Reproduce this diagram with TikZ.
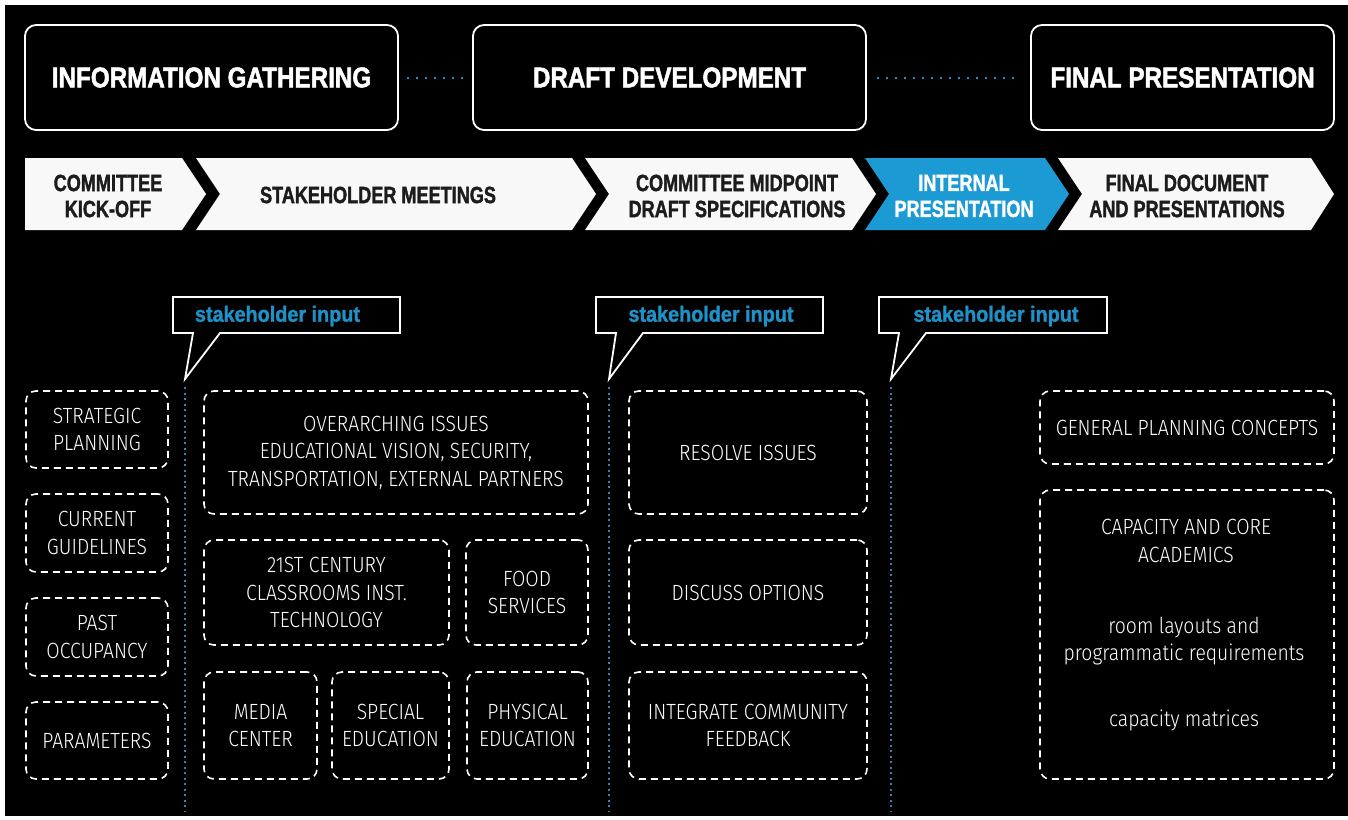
\documentclass[tikz,border=0pt]{standalone}
\usepackage{fontspec}
\newfontfamily\hfam[FakeStretch=0.85,FakeBold=1.8]{Liberation Sans Bold}
\newfontfamily\cfam[FakeStretch=0.77,FakeBold=1.5]{Liberation Sans Bold}
\newfontfamily\sfam[FakeStretch=0.9,FakeBold=1.4]{Liberation Sans Bold}
\IfFontExistsTF{Fira Sans Book}{\newfontfamily\bfam[FakeStretch=0.86]{Fira Sans Book}}{%
\IfFontExistsTF{Fira Sans Light}{\newfontfamily\bfam[FakeStretch=0.88]{Fira Sans Light}}{\newfontfamily\bfam[FakeStretch=0.77]{Liberation Sans}}}
\definecolor{cblue}{RGB}{27,154,212}
\definecolor{sblue}{RGB}{30,145,200}
\definecolor{dblue}{RGB}{50,130,170}
\definecolor{ctext}{RGB}{28,28,28}
\definecolor{cwhite}{RGB}{248,248,248}
\begin{document}
\begin{tikzpicture}[x=1pt,y=-1pt,
  phase/.style={draw=white,line width=1.8pt,rounded corners=11pt,inner sep=0pt,text=white,
    font=\hfam\fontsize{28.5}{30}\selectfont},
  chevw/.style={fill=cwhite},
  chevb/.style={fill=cblue},
  ctxt/.style={text=ctext,align=center,inner sep=0pt,font=\cfam\fontsize{23.5}{26}\selectfont},
  dbox/.style={draw=white,dash pattern=on 7pt off 5pt,line width=1.6pt,rounded corners=10pt,
    inner sep=0pt,text=white,align=center,font=\bfam\fontsize{22}{27.5}\selectfont},
  btxt/.style={text=white,align=center,inner sep=0pt,font=\bfam\fontsize{22}{27.5}\selectfont},
  bubbleline/.style={draw=white,line width=1.8pt,line join=miter},
  stxt/.style={text=sblue,inner sep=0pt,font=\sfam\fontsize{22}{24}\selectfont},
  vdot/.style={draw=dblue,line width=1.6pt,dash pattern=on 2pt off 3.5pt},
  hdot/.style={draw=sblue,line width=2pt,dash pattern=on 2pt off 7pt}
]
\useasboundingbox (0,0) rectangle (1348,819);
\fill[white] (0,0) rectangle (1348,819);
\fill[black] (5,5) rectangle (1348,816);

% phase boxes
\node[phase,minimum width=373pt,minimum height=105pt] (ig) at (211.5,77.5) {INFORMATION GATHERING};
\node[phase,minimum width=393pt,minimum height=105pt] (dd) at (669.5,77.5) {DRAFT DEVELOPMENT};
\node[phase,minimum width=303pt,minimum height=105pt] (fp) at (1182.5,77.5) {FINAL PRESENTATION};
\draw[hdot,shorten <=8pt,shorten >=5pt] (ig.east) -- (dd.west);
\draw[hdot,shorten <=10pt,shorten >=10pt] (dd.east) -- (fp.west);

% chevrons
\fill[chevw] (25,158) -- (182,158) -- (206,194) -- (182,230) -- (25,230) -- cycle;
\fill[chevw] (196,158) -- (572,158) -- (596,194) -- (572,230) -- (196,230) -- (220,194) -- cycle;
\fill[chevw] (585,158) -- (852,158) -- (876,194) -- (852,230) -- (585,230) -- (609,194) -- cycle;
\fill[chevb] (865,158) -- (1045,158) -- (1069,194) -- (1045,230) -- (865,230) -- (889,194) -- cycle;
\fill[chevw] (1058,158) -- (1311,158) -- (1334,194) -- (1311,230) -- (1058,230) -- (1082,194) -- cycle;
\node[ctxt] (k1) at (108,196) {COMMITTEE\\KICK-OFF};
\node[ctxt] (k2) at (378,195) {STAKEHOLDER MEETINGS};
\node[ctxt] (k3) at (737,196) {COMMITTEE MIDPOINT\\DRAFT SPECIFICATIONS};
\node[ctxt,text=white] (k4) at (964,196) {INTERNAL\\PRESENTATION};
\node[ctxt] (k5) at (1187,196) {FINAL DOCUMENT\\AND PRESENTATIONS};

% bubbles
\draw[bubbleline] (173,297) -- (400,297) -- (400,333) -- (220,333) -- (185,379) -- (193,333) -- (173,333) -- cycle;
\node[stxt] (s1) at (277.5,316) {stakeholder input};
\draw[bubbleline] (596,297) -- (823,297) -- (823,333) -- (643,333) -- (609,379) -- (616,333) -- (596,333) -- cycle;
\node[stxt] (s2) at (711,316) {stakeholder input};
\draw[bubbleline] (879,297) -- (1107,297) -- (1107,333) -- (926,333) -- (891,379) -- (899,333) -- (879,333) -- cycle;
\node[stxt] (s3) at (996,316) {stakeholder input};

% vertical dotted lines
\coordinate (v1a) at (185,387); \coordinate (v1b) at (185,812);
\coordinate (v2a) at (609,387); \coordinate (v2b) at (609,812);
\coordinate (v3a) at (891,387); \coordinate (v3b) at (891,812);
\draw[vdot] (v1a) -- (v1b);
\draw[vdot] (v2a) -- (v2b);
\draw[vdot] (v3a) -- (v3b);

% left column
\node[dbox,minimum width=142pt,minimum height=77pt] (b1) at (97,429.5) {STRATEGIC\\PLANNING};
\node[dbox,minimum width=142pt,minimum height=78pt] (b2) at (97,533) {CURRENT\\GUIDELINES};
\node[dbox,minimum width=142pt,minimum height=78pt] (b3) at (97,637) {PAST\\OCCUPANCY};
\node[dbox,minimum width=142pt,minimum height=77pt] (b4) at (97,740.5) {PARAMETERS};

% second column
\node[dbox,minimum width=384pt,minimum height=123pt] (c1) at (396,452.5) {OVERARCHING ISSUES\\EDUCATIONAL VISION, SECURITY,\\TRANSPORTATION, EXTERNAL PARTNERS};
\node[dbox,minimum width=245pt,minimum height=105pt] (c2) at (326.5,592.5) {21ST CENTURY\\CLASSROOMS INST.\\TECHNOLOGY};
\node[dbox,minimum width=122pt,minimum height=105pt] (c3) at (527,592.5) {FOOD\\SERVICES};
\node[dbox,minimum width=113pt,minimum height=107pt] (c4) at (260.5,725.5) {MEDIA\\CENTER};
\node[dbox,minimum width=117pt,minimum height=107pt] (c5) at (390.5,725.5) {SPECIAL\\EDUCATION};
\node[dbox,minimum width=121pt,minimum height=107pt] (c6) at (527.5,725.5) {PHYSICAL\\EDUCATION};

% third column
\node[dbox,minimum width=238pt,minimum height=123pt] (d1) at (748,452.5) {RESOLVE ISSUES};
\node[dbox,minimum width=238pt,minimum height=105pt] (d2) at (748,592.5) {DISCUSS OPTIONS};
\node[dbox,minimum width=238pt,minimum height=107pt] (d3) at (748,725.5) {INTEGRATE COMMUNITY\\FEEDBACK};

% right column
\node[dbox,minimum width=294pt,minimum height=73pt] (e1) at (1187,427.5) {GENERAL PLANNING CONCEPTS};
\node[dbox,minimum width=294pt,minimum height=289pt] (e2) at (1187,634.5) {};
\node[btxt] (t1) at (1186,541) {CAPACITY AND CORE\\ACADEMICS};
\node[btxt] (t2) at (1184,641) {room layouts and\\programmatic requirements};
\node[btxt] (t3) at (1184,720) {capacity matrices};
\end{tikzpicture}
\end{document}
